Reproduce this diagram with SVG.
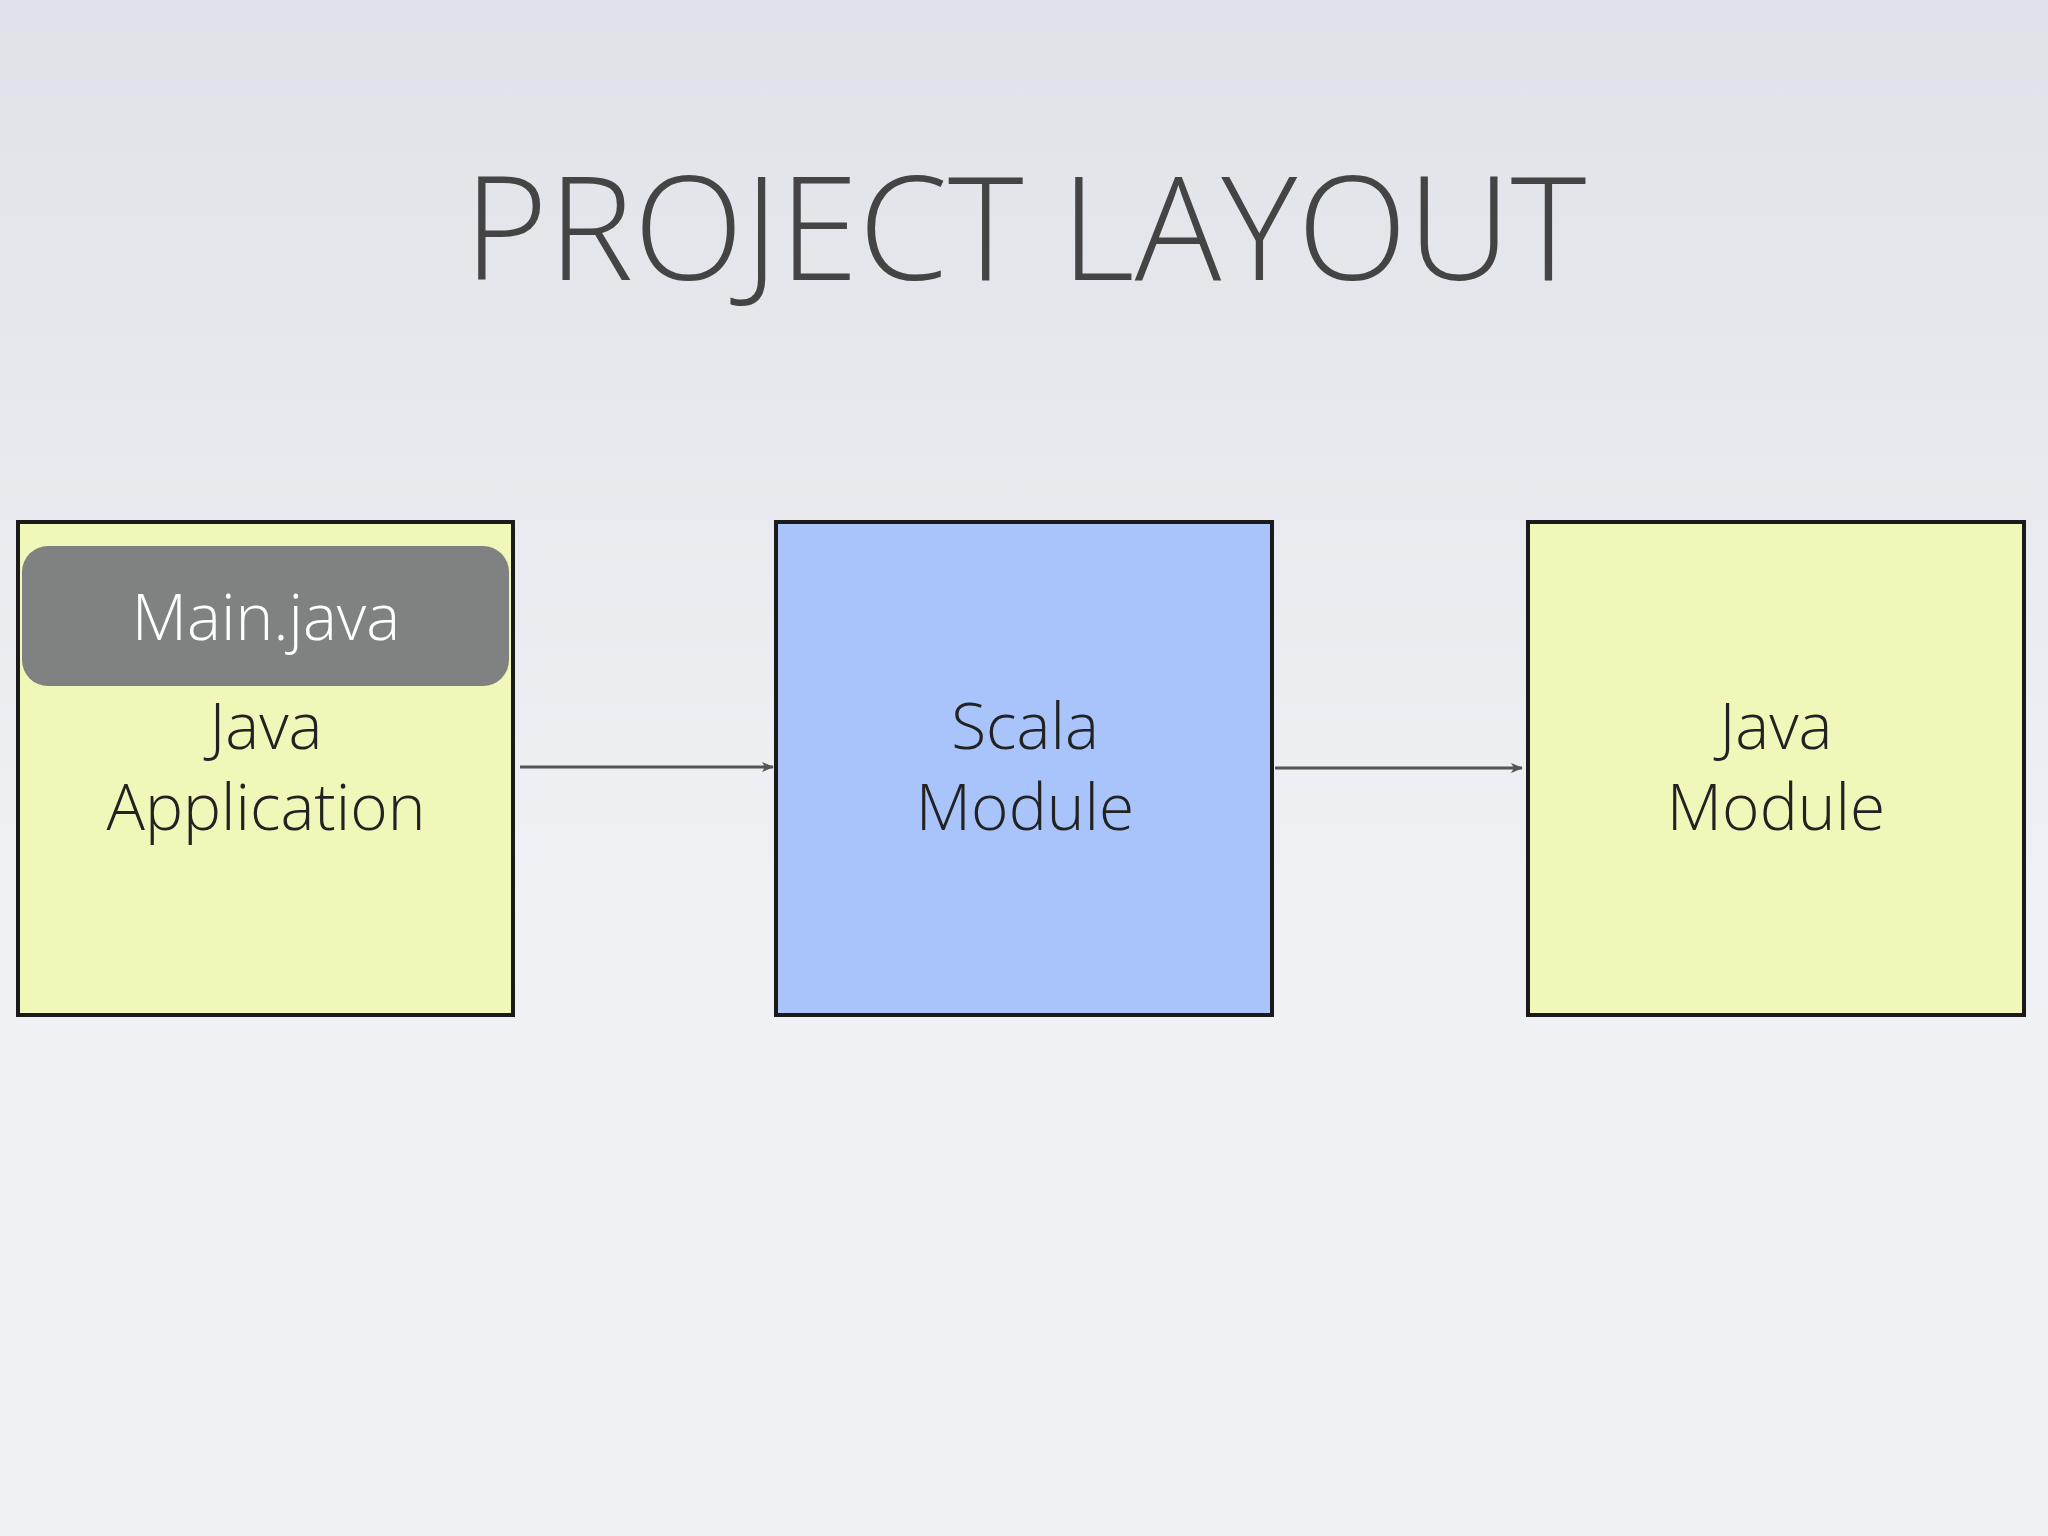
<svg xmlns="http://www.w3.org/2000/svg" width="2048" height="1536" viewBox="0 0 2048 1536">
<defs>
<linearGradient id="bg" x1="0" y1="0" x2="0" y2="1">
<stop offset="0" stop-color="#dfe2e8"/><stop offset="0.6" stop-color="#f0f1f5"/><stop offset="1" stop-color="#eef0f4"/>
</linearGradient>
<marker id="ah" markerWidth="12" markerHeight="10" refX="11" refY="5" orient="auto" markerUnits="userSpaceOnUse">
<path d="M0,0 L12,5 L0,10 L3,5 Z" fill="#555"/>
</marker>
</defs>
<style>
.t{font-family:"Open Sans","Liberation Sans",sans-serif;font-weight:300;fill:#222;text-anchor:middle;font-size:64px}
.box{stroke:#1a1a1a;stroke-width:4}
.c{stroke:#555;stroke-width:3;fill:none}
</style>
<rect width="2048" height="1536" fill="url(#bg)"/>
<text x="1025" y="280" font-family="'Open Sans','Liberation Sans',sans-serif" font-weight="300" font-size="144" fill="#444" text-anchor="middle">PROJECT LAYOUT</text>
<g id="java-app">
<rect class="box" x="18" y="522" width="495" height="493" fill="#f1f7b8"/>
<rect x="22" y="546" width="487" height="140" rx="26" fill="#808282"/>
<text class="t" x="266" y="640" style="fill:#fff">Main.java</text>
<text class="t" x="266" y="749">Java</text>
<text class="t" x="266" y="830">Application</text>
</g>
<g id="scala-module">
<rect class="box" x="776" y="522" width="496" height="493" fill="#a8c4fb"/>
<text class="t" x="1025" y="749">Scala</text>
<text class="t" x="1025" y="830">Module</text>
</g>
<g id="java-module">
<rect class="box" x="1528" y="522" width="496" height="493" fill="#f1f7b8"/>
<text class="t" x="1776" y="749">Java</text>
<text class="t" x="1776" y="830">Module</text>
</g>
<g id="connectors">
<line class="c" x1="520" y1="767" x2="773" y2="767" marker-end="url(#ah)"/>
<line class="c" x1="1275" y1="768" x2="1522" y2="768" marker-end="url(#ah)"/>
</g>
</svg>
